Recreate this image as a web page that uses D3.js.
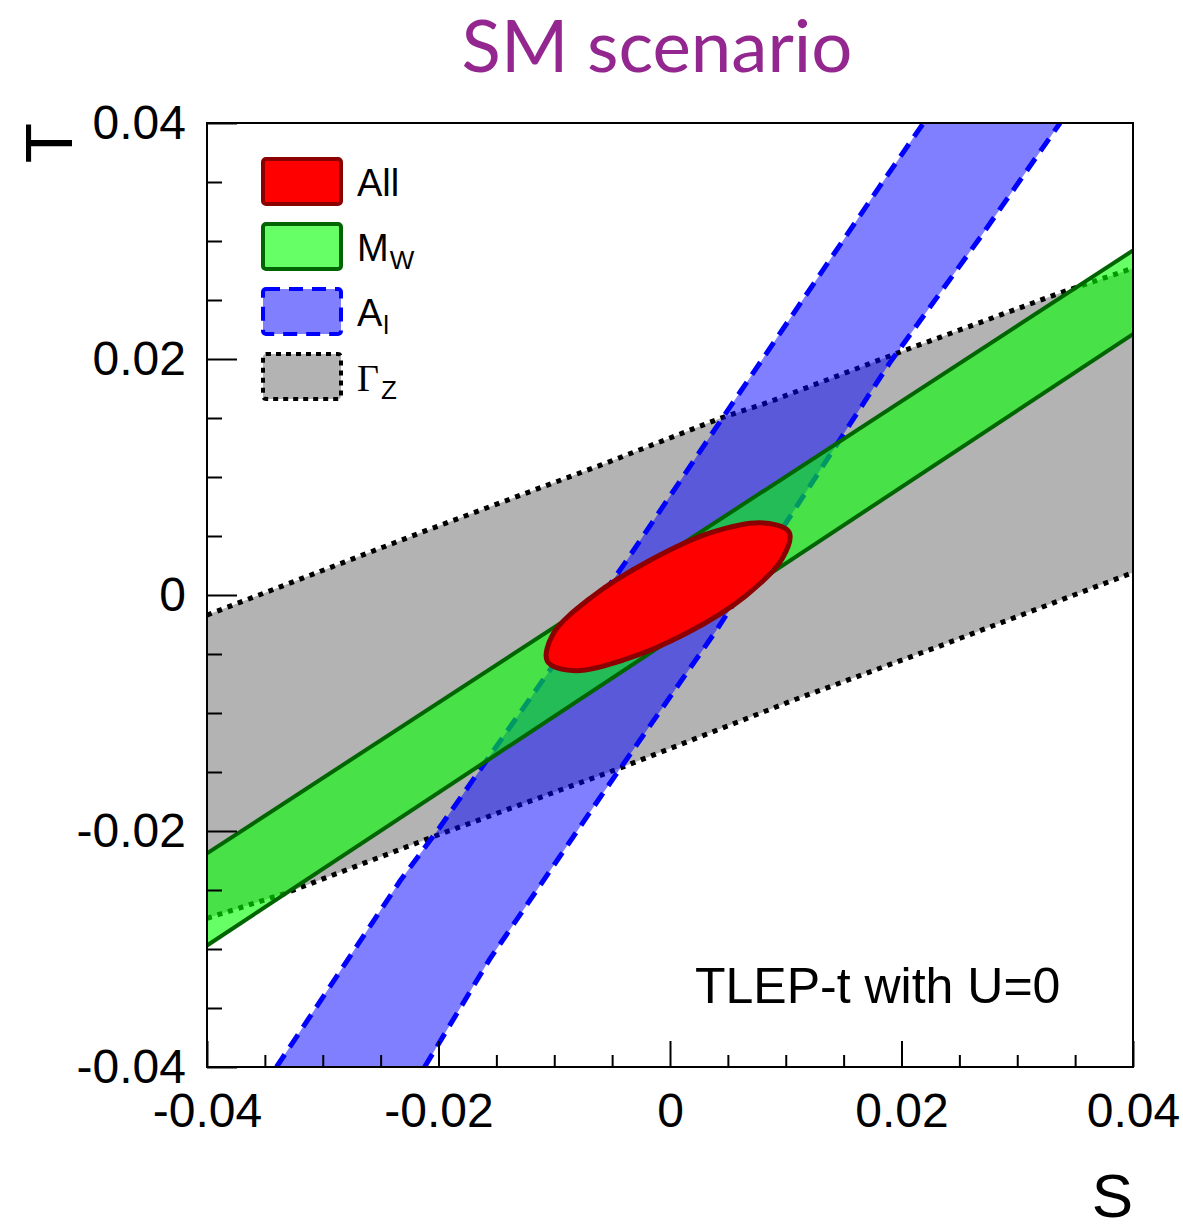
<!DOCTYPE html>
<html>
<head>
<meta charset="utf-8">
<script src="https://cdn.jsdelivr.net/npm/d3@7"></script>
<style>
  html, body { margin: 0; padding: 0; background: #fff; }
  svg { display: block; }
</style>
</head>
<body>
<div id="chart"></div>
<script>
// tick values
const majorTicks = [-0.04, -0.02, 0, 0.02, 0.04];
const minorTicks = [-0.035, -0.03, -0.025, -0.015, -0.01, -0.005, 0.005, 0.01, 0.015, 0.025, 0.03, 0.035];

// Gamma_Z band edges [S, T]
const gammaZUpper = [[-0.04, -0.0017], [-0.0215, 0.0053], [-0.0060, 0.0110], [0.0044, 0.0150],
  [0.0084, 0.0163], [0.0199, 0.0206], [0.0337, 0.0256], [0.04, 0.0277]];
const gammaZLower = [[-0.04, -0.0274], [-0.0333, -0.0253], [-0.0317, -0.0247], [-0.0205, -0.0205],
  [-0.0044, -0.0147], [0.0107, -0.0089], [0.0231, -0.0044], [0.04, 0.0019]];

// M_W band edges
const mWUpper = [[-0.04, -0.0219], [0.04, 0.0292]];
const mWLower = [[-0.04, -0.0297], [0.04, 0.0221]];

// A_l band edges
const aLLeft = [[-0.0340, -0.04], [-0.0233, -0.0242], [-0.0199, -0.0197], [-0.0039, 0.0027],
  [0.0044, 0.0148], [0.0181, 0.0346], [0.0219, 0.04]];
const aLRight = [[-0.0212, -0.04], [-0.0156, -0.0309], [-0.0060, -0.0171], [0.0040, -0.0030],
  [0.0190, 0.0197], [0.0268, 0.0303], [0.0337, 0.04]];

// combined fit contour
const allContour = [[0.0103, 0.0053], [0.0097, 0.0031], [0.0065, -0.0001], [0.0015, -0.0032],
  [-0.0040, -0.0055], [-0.0084, -0.0064], [-0.0106, -0.0056], [-0.0101, -0.0033],
  [-0.0068, -0.0002], [-0.0018, 0.0029], [0.0036, 0.0053], [0.0081, 0.0061]];

const legendItems = [
  { label: "All", sub: "", fill: "#ff0000", stroke: "#8b0000", dash: null },
  { label: "M", sub: "W", fill: "#66ff66", stroke: "#006400", dash: null },
  { label: "A", sub: "l", fill: "#8080ff", stroke: "#0000ff", dash: "14,9" },
  { label: "\u0393", sub: "Z", fill: "#b3b3b3", stroke: "#000", dash: "5,5" }
];

const width = 1183, height = 1230;
const plotLeft = 207, plotRight = 1133, plotTop = 123, plotBottom = 1067;
const sansFont = "'Liberation Sans', Arial, Helvetica, sans-serif";

const svg = d3.select("#chart").append("svg")
  .attr("width", width)
  .attr("height", height);

const x = d3.scaleLinear().domain([-0.04, 0.04]).range([plotLeft, plotRight]);
const y = d3.scaleLinear().domain([-0.04, 0.04]).range([plotBottom, plotTop]);

svg.append("defs").append("clipPath").attr("id", "plot-clip")
  .append("rect")
  .attr("x", plotLeft).attr("y", plotTop)
  .attr("width", plotRight - plotLeft).attr("height", plotBottom - plotTop);

const line = d3.line().x((d) => x(d[0])).y((d) => y(d[1]));
const band = (a, b) => line(a.concat(b.slice().reverse())) + "Z";

const plot = svg.append("g").attr("clip-path", "url(#plot-clip)");

// Gamma_Z (bottom layer)
plot.append("path").attr("d", band(gammaZUpper, gammaZLower)).attr("fill", "#b3b3b3");
[gammaZUpper, gammaZLower].forEach((e) => {
  plot.append("path").attr("d", line(e)).attr("fill", "none")
    .attr("stroke", "#000").attr("stroke-width", 5).attr("stroke-dasharray", "5,6");
});

// A_l
plot.append("path").attr("d", band(aLLeft, aLRight)).attr("fill", "#0000ff").attr("fill-opacity", 0.5);
[aLLeft, aLRight].forEach((e) => {
  plot.append("path").attr("d", line(e)).attr("fill", "none")
    .attr("stroke", "#0000ff").attr("stroke-width", 5).attr("stroke-dasharray", "15,9");
});

// M_W
plot.append("path").attr("d", band(mWUpper, mWLower)).attr("fill", "#00ff00").attr("fill-opacity", 0.6);
[mWUpper, mWLower].forEach((e) => {
  plot.append("path").attr("d", line(e)).attr("fill", "none")
    .attr("stroke", "#006400").attr("stroke-width", 4);
});

// All
plot.append("path")
  .attr("d", d3.line().x((d) => x(d[0])).y((d) => y(d[1])).curve(d3.curveCatmullRomClosed)(allContour))
  .attr("fill", "#ff0000")
  .attr("stroke", "#8b0000")
  .attr("stroke-width", 5);

// Axes
const fmt = (d) => (d === 0 ? "0" : d.toFixed(2));

function styleAxis(g) {
  g.select(".domain").remove();
  g.selectAll(".tick line").attr("stroke", "#000").attr("stroke-width", 2);
  g.selectAll("text").attr("font-family", sansFont).attr("font-size", 48).attr("fill", "#000");
}

svg.append("g").attr("transform", `translate(0,${plotBottom})`)
  .call(d3.axisBottom(x).tickValues(minorTicks).tickSize(-12).tickFormat(""))
  .call(styleAxis);
svg.append("g").attr("transform", `translate(0,${plotBottom})`)
  .call(d3.axisBottom(x).tickValues(majorTicks).tickSize(-26).tickPadding(26).tickFormat(fmt))
  .call(styleAxis);

svg.append("g").attr("transform", `translate(${plotLeft},0)`)
  .call(d3.axisLeft(y).tickValues(minorTicks).tickSize(-15).tickFormat(""))
  .call(styleAxis);
svg.append("g").attr("transform", `translate(${plotLeft},0)`)
  .call(d3.axisLeft(y).tickValues(majorTicks).tickSize(-30).tickPadding(21).tickFormat(fmt))
  .call(styleAxis);

// frame
svg.append("rect")
  .attr("x", plotLeft).attr("y", plotTop)
  .attr("width", plotRight - plotLeft).attr("height", plotBottom - plotTop)
  .attr("fill", "none").attr("stroke", "#000").attr("stroke-width", 2);

// axis titles
svg.append("text")
  .attr("x", plotRight).attr("y", 1217)
  .attr("text-anchor", "end")
  .attr("font-family", sansFont).attr("font-size", 62)
  .text("S");

svg.append("text")
  .attr("transform", `translate(72,${plotTop}) rotate(-90)`)
  .attr("text-anchor", "end")
  .attr("font-family", sansFont).attr("font-size", 66)
  .text("T");

// title
svg.append("text")
  .attr("x", 657).attr("y", 72)
  .attr("text-anchor", "middle")
  .attr("font-family", "Lato, 'Open Sans', sans-serif")
  .attr("font-size", 72)
  .attr("fill", "#93268f")
  .attr("textLength", 391).attr("lengthAdjust", "spacingAndGlyphs")
  .text("SM scenario");

// annotation
svg.append("text")
  .attr("x", 695).attr("y", 1003)
  .attr("font-family", sansFont).attr("font-size", 50)
  .text("TLEP-t with U=0");

// legend
const legend = svg.append("g");
legendItems.forEach((d, i) => {
  const y0 = 159 + i * 65;
  legend.append("rect")
    .attr("x", 263).attr("y", y0)
    .attr("width", 78).attr("height", 45)
    .attr("rx", 3)
    .attr("fill", d.fill)
    .attr("stroke", d.stroke)
    .attr("stroke-width", 4)
    .attr("stroke-dasharray", d.dash);
  const t = legend.append("text")
    .attr("x", 357).attr("y", y0 + 37)
    .attr("font-family", i === 3 ? "'Liberation Serif', 'DejaVu Serif', serif" : sansFont)
    .attr("font-size", 38)
    .text(d.label);
  if (d.sub) {
    t.append("tspan")
      .attr("font-family", sansFont)
      .attr("font-size", 26)
      .attr("dy", 8)
      .attr("dx", i === 3 ? 2 : 1)
      .text(d.sub);
  }
});
</script>
</body>
</html>
